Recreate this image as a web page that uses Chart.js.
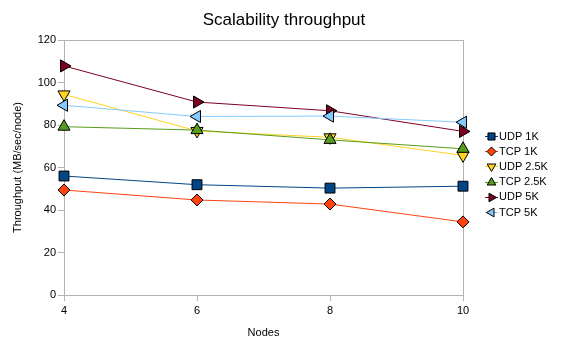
<!DOCTYPE html>
<html><head><meta charset="utf-8">
<script src="https://cdn.jsdelivr.net/npm/chart.js@4.4.1/dist/chart.umd.min.js"></script>
<style>html,body{margin:0;padding:0;background:#fff;}#wrap{width:568px;height:355px;}</style>
</head><body><div id="wrap"><canvas id="c" width="568" height="355"></canvas></div>
<script>
const nodes = [4, 6, 8, 10];
const seriesNames = ['UDP 1K', 'TCP 1K', 'UDP 2.5K', 'TCP 2.5K', 'UDP 5K', 'TCP 5K'];
const udp1k = [56.0, 51.9, 50.3, 51.2];
const tcp1k = [49.4, 44.7, 42.8, 34.4];
const udp25k = [94.4, 77.2, 74.2, 65.7];
const tcp25k = [79.2, 77.6, 73.0, 68.8];
const udp5k = [107.8, 90.8, 86.7, 77.0];
const tcp5k = [89.3, 84.0, 84.2, 81.3];
const yTicks = [0, 20, 40, 60, 80, 100, 120];
const xTicks = [4, 6, 8, 10];
const chartTitle = 'Scalability throughput';

const values = [udp1k, tcp1k, udp25k, tcp25k, udp5k, tcp5k];
const colors = ['#004586', '#ff420e', '#ffd320', '#579d1c', '#7e0021', '#83caff'];
const styles = [
  {pointStyle: 'rect', rotation: 0, radius: 7, lr: 5},
  {pointStyle: 'rectRot', rotation: 0, radius: 6, lr: 4.5},
  {pointStyle: 'triangle', rotation: 180, radius: 7, lr: 5},
  {pointStyle: 'triangle', rotation: 0, radius: 7, lr: 5},
  {pointStyle: 'triangle', rotation: 90, radius: 7, lr: 5},
  {pointStyle: 'triangle', rotation: -90, radius: 7, lr: 5}
];
const FONT = 'Liberation Sans, Arial, sans-serif';

const datasets = seriesNames.map((name, i) => ({
  label: name,
  data: nodes.map((n, j) => ({x: n, y: values[i][j]})),
  borderColor: colors[i],
  backgroundColor: colors[i],
  borderWidth: 1,
  pointStyle: styles[i].pointStyle,
  rotation: styles[i].rotation,
  pointRadius: styles[i].radius,
  pointHoverRadius: styles[i].radius,
  pointBorderColor: '#000',
  pointBackgroundColor: colors[i],
  pointBorderWidth: 1,
  tension: 0,
  clip: false,
  order: seriesNames.length - i
}));

const frame = {
  id: 'frame',
  beforeDatasetsDraw(chart) {
    const a = chart.chartArea, ctx = chart.ctx;
    ctx.save();
    ctx.strokeStyle = '#b3b3b3';
    ctx.lineWidth = 1;
    ctx.strokeRect(Math.round(a.left) + 0.5, Math.round(a.top) + 0.5, Math.round(a.right - a.left), Math.round(a.bottom - a.top));
    ctx.restore();
  }
};

const decorations = {
  id: 'decorations',
  afterDraw(chart) {
    const ctx = chart.ctx;
    ctx.save();
    ctx.fillStyle = '#000';
    ctx.font = '17px ' + FONT;
    ctx.textAlign = 'center';
    ctx.textBaseline = 'middle';
    ctx.fillText(chartTitle, chart.width / 2, 20);
    ctx.font = '11px ' + FONT;
    ctx.textBaseline = 'middle';
    ctx.textAlign = 'left';
    seriesNames.forEach((name, i) => {
      const y = 136 + i * 15.2;
      ctx.strokeStyle = colors[i];
      ctx.lineWidth = 1;
      ctx.beginPath();
      ctx.moveTo(485, Math.round(y) + 0.5);
      ctx.lineTo(498, Math.round(y) + 0.5);
      ctx.stroke();
      ctx.fillStyle = colors[i];
      ctx.strokeStyle = '#000';
      Chart.helpers.drawPoint(ctx, {pointStyle: styles[i].pointStyle, rotation: styles[i].rotation, radius: styles[i].lr, borderWidth: 1}, 491.5, Math.round(y) + 0.5);
      ctx.fillStyle = '#000';
      ctx.fillText(name, 499, y + 0.5);
    });
    ctx.restore();
  }
};

new Chart(document.getElementById('c'), {
  type: 'line',
  data: {datasets},
  options: {
    responsive: false,
    animation: false,
    layout: {padding: {left: 0, right: 105, top: 40, bottom: 0}},
    plugins: {
      legend: {display: false},
      tooltip: {enabled: false},
      title: {display: false}
    },
    scales: {
      x: {
        type: 'linear',
        min: 4, max: 10,
        afterBuildTicks(scale) { scale.ticks = xTicks.map(v => ({value: v})); },
        afterFit(scale) { scale.height = 60; },
        grid: {drawOnChartArea: false, drawTicks: true, tickLength: 6, color: '#b3b3b3'},
        border: {display: true, color: '#b3b3b3'},
        ticks: {color: '#000', padding: 3, font: {family: FONT, size: 11}, maxRotation: 0},
        title: {display: true, text: 'Nodes', color: '#000', font: {family: FONT, size: 11, lineHeight: 1.2}, padding: {top: 0, bottom: 15.4}}
      },
      y: {
        type: 'linear',
        min: 0, max: 120,
        afterBuildTicks(scale) { scale.ticks = yTicks.map(v => ({value: v})); },
        afterFit(scale) { scale.width = 64; },
        grid: {drawOnChartArea: false, drawTicks: true, tickLength: 6, color: '#b3b3b3'},
        border: {display: true, color: '#b3b3b3'},
        ticks: {color: '#000', padding: 2, font: {family: FONT, size: 11}},
        title: {display: true, text: 'Throughput (MB/sec/node)', color: '#000', font: {family: FONT, size: 11, lineHeight: 1.2}, padding: {top: 11.4, bottom: 0}}
      }
    }
  },
  plugins: [frame, decorations]
});
</script>
</body></html>
